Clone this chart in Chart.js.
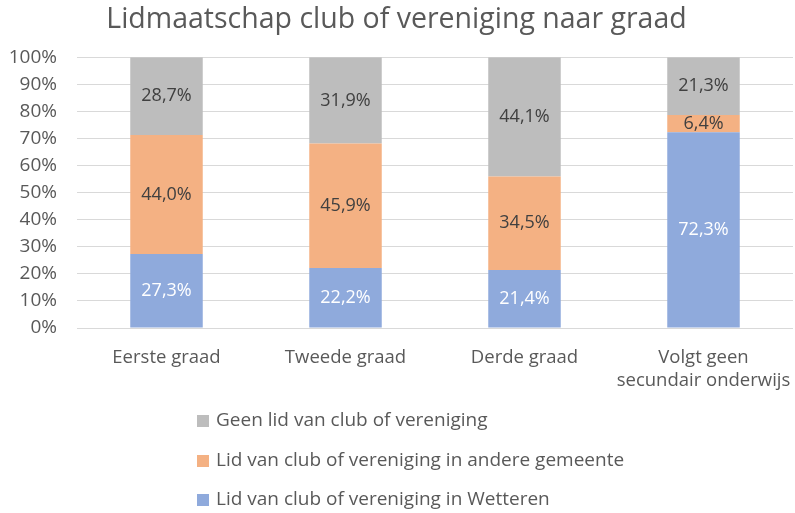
<!DOCTYPE html>
<html><head><meta charset="utf-8">
<script src="https://cdn.jsdelivr.net/npm/chart.js@4.4.0/dist/chart.umd.min.js"></script>
<style>html,body{margin:0;padding:0;background:#fff}#wrap{width:795px;height:513px}</style>
</head><body><div id="wrap"><canvas id="c" width="795" height="513"></canvas></div>
<script>
const categories = ["Eerste graad", "Tweede graad", "Derde graad", ["Volgt geen", "secundair onderwijs"]];
const wetteren = [27.3, 22.2, 21.4, 72.3];
const andereGemeente = [44.0, 45.9, 34.5, 6.4];
const geenLid = [28.7, 31.9, 44.1, 21.3];
const yTicks = [0, 10, 20, 30, 40, 50, 60, 70, 80, 90, 100];
const seriesNames = ["Lid van club of vereniging in Wetteren", "Lid van club of vereniging in andere gemeente", "Geen lid van club of vereniging"];
const titleText = "Lidmaatschap club of vereniging naar graad";

const FONT = "'Open Sans', sans-serif";
const TXT = "#595959";
const fmt = v => v.toFixed(1).replace('.', ',') + '%';

const labelPlugin = {
  id: 'barLabels',
  afterDatasetsDraw(chart) {
    const ctx = chart.ctx;
    ctx.save();
    ctx.font = "18px " + FONT;
    ctx.textAlign = 'center';
    ctx.textBaseline = 'middle';
    chart.data.datasets.forEach((ds, i) => {
      const meta = chart.getDatasetMeta(i);
      meta.data.forEach((bar, j) => {
        const y = (bar.y + bar.base) / 2;
        ctx.fillStyle = ds.labelColor;
        ctx.fillText(fmt(ds.data[j]), bar.x, y);
      });
    });
    ctx.restore();
  }
};

const legendPlugin = {
  id: 'vertLegend',
  afterDraw(chart) {
    const ctx = chart.ctx;
    ctx.save();
    ctx.font = "19px " + FONT;
    ctx.textAlign = 'left';
    ctx.textBaseline = 'middle';
    const ys = [421, 461, 500];
    const order = [2, 1, 0];
    order.forEach((di, k) => {
      const ds = chart.data.datasets[di];
      ctx.fillStyle = ds.backgroundColor;
      ctx.fillRect(197, ys[k] - 6, 12, 12);
      ctx.fillStyle = TXT;
      ctx.fillText(ds.label, 216, ys[k]);
    });
    ctx.restore();
  }
};

new Chart(document.getElementById('c'), {
  type: 'bar',
  data: {
    labels: categories,
    datasets: [
      { label: seriesNames[0], data: wetteren, backgroundColor: '#8faadc', labelColor: '#ffffff' },
      { label: seriesNames[1], data: andereGemeente, backgroundColor: '#f4b183', labelColor: '#404040' },
      { label: seriesNames[2], data: geenLid, backgroundColor: '#bdbdbd', labelColor: '#404040' }
    ]
  },
  options: {
    responsive: false,
    animation: false,
    devicePixelRatio: 1,
    datasets: { bar: { categoryPercentage: 1, barPercentage: 0.405 } },
    layout: { padding: { top: 0, left: 0, right: 2, bottom: 120 } },
    plugins: {
      legend: { display: false },
      tooltip: { enabled: false },
      title: {
        display: true, text: titleText, color: TXT,
        font: { family: FONT, size: 28.5, weight: 'normal', lineHeight: 1.2 },
        padding: { top: 3, bottom: 20 }
      }
    },
    scales: {
      x: {
        stacked: true,
        grid: { display: false, drawTicks: false },
        border: { display: false },
        ticks: { color: TXT, font: { family: FONT, size: 18.5 }, padding: 19, maxRotation: 0, minRotation: 0, autoSkip: false },
        afterFit: s => { s.height = 65; s.paddingLeft = 0; s.paddingRight = 0; }
      },
      y: {
        stacked: true, min: 0, max: 100,
        afterBuildTicks: s => { s.ticks = yTicks.map(v => ({ value: v })); },
        grid: { color: '#d9d9d9', lineWidth: 1, drawTicks: false },
        border: { display: false },
        ticks: { color: TXT, font: { family: FONT, size: 19 }, padding: 20, callback: v => v + '%' },
        afterFit: s => { s.width = 77; }
      }
    }
  },
  plugins: [labelPlugin, legendPlugin]
});
</script>
</body></html>
